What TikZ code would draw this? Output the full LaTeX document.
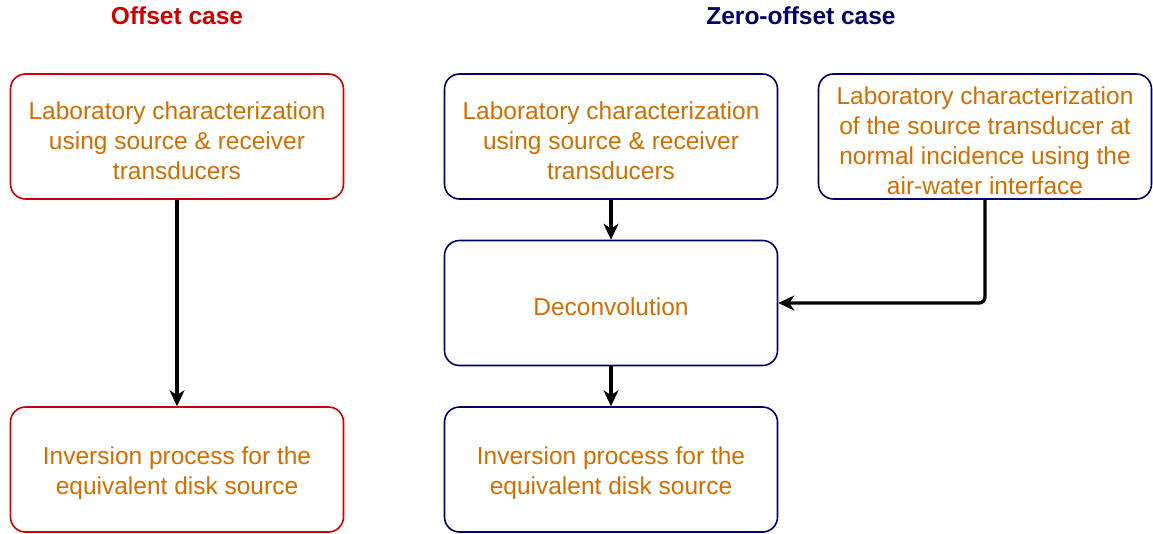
\documentclass[tikz,border=0pt]{standalone}
\usepackage{fontspec}
\setmainfont{Liberation Sans}
\usetikzlibrary{arrows.meta}
\definecolor{txtorange}{RGB}{210,110,0}
\definecolor{offred}{RGB}{204,0,0}
\definecolor{zeroblue}{RGB}{0,0,102}
\tikzset{
  x=1pt, y=-1pt,
  box/.style={draw, line width=1.6pt, rounded corners=15pt, minimum width=333pt,
    minimum height=125pt, inner sep=0pt},
  boxtext/.style={align=center, text=txtorange, inner sep=0pt, yshift=-4pt,
    font=\fontsize{24.5}{30}\selectfont},
  redbox/.style={box, draw=offred},
  bluebox/.style={box, draw=zeroblue},
  heading/.style={font=\fontsize{24.5}{30}\selectfont\bfseries},
  flow/.style={line width=3.4pt, -{Stealth[length=16pt,width=15pt,inset=5pt]}}
}
\begin{document}
\begin{tikzpicture}
\useasboundingbox (0,0) rectangle (1153,533);
\fill[white] (0,0) rectangle (1153,533);

% headings
\node[heading, text=offred] (hoff) at (177,16) {Offset case};
\node[heading, text=zeroblue] (hzero) at (801,16) {Zero-offset case};

% offset case
\node[redbox, label={[boxtext]center:Laboratory characterization\\using source \& receiver\\transducers}] (lab1) at (177,136.5) {};
\node[redbox, label={[boxtext]center:Inversion process for the\\equivalent disk source}] (inv1) at (177,469.5) {};

% zero-offset case
\node[bluebox, label={[boxtext]center:Laboratory characterization\\using source \& receiver\\transducers}] (lab2) at (611,136.5) {};
\node[bluebox, label={[boxtext]center:Laboratory characterization\\of the source transducer at\\normal incidence using the\\air-water interface}] (air) at (985,136.5) {};
\node[bluebox, label={[boxtext]center:Deconvolution}] (dec) at (611,303) {};
\node[bluebox, label={[boxtext]center:Inversion process for the\\equivalent disk source}] (inv2) at (611,469.5) {};

% connectors
\draw[flow] (lab1) -- (inv1);
\draw[flow] (lab2) -- (dec);
\draw[flow] (dec) -- (inv2);
\draw[flow, rounded corners=6pt] (air.south) |- (dec.east);
\end{tikzpicture}
\end{document}
